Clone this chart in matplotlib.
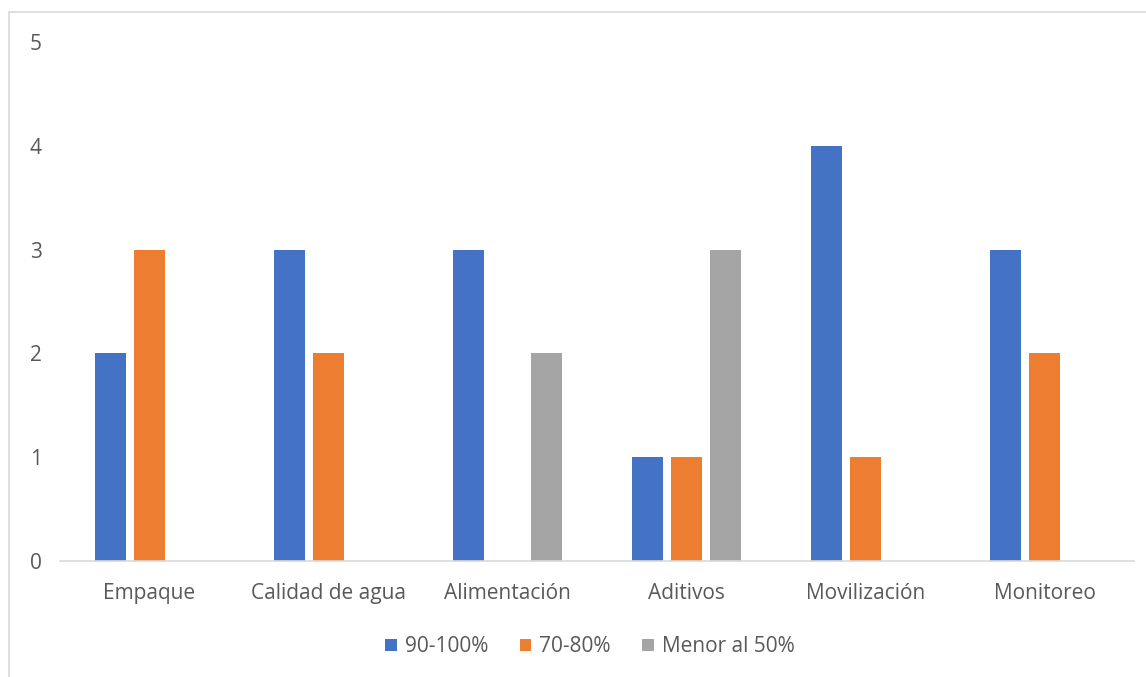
import numpy as np
import matplotlib.pyplot as plt
from matplotlib.patches import Rectangle

categorias = ["Empaque", "Calidad de agua", "Alimentación", "Aditivos", "Movilización", "Monitoreo"]
series = ["90-100%", "70-80%", "Menor al 50%"]
alto = [2, 3, 3, 1, 4, 3]
medio = [3, 2, 0, 1, 1, 2]
bajo = [0, 0, 2, 3, 0, 0]
colores = ["#4472C4", "#ED7D31", "#A5A5A5"]

plt.rcParams['font.family'] = ['Open Sans', 'DejaVu Sans']
texto = "#595959"

fig = plt.figure(figsize=(11.46, 6.77), dpi=100)
ax = fig.add_axes([60 / 1146, 1 - 561 / 677, 1074 / 1146, 519 / 677])

x = np.arange(len(categorias))
ancho = 0.173
paso = 0.218
for i, (nombre, valores) in enumerate(zip(series, [alto, medio, bajo])):
    ax.bar(x + (i - 1) * paso, valores, width=ancho, color=colores[i], label=nombre, linewidth=0)

ax.set_xlim(-0.5, len(categorias) - 0.5)
ax.set_ylim(0, 5)
ax.set_yticks(range(6))
ax.set_xticks(x)
ax.set_xticklabels(categorias)
ax.tick_params(axis='both', length=0, labelsize=15, colors=texto)
ax.tick_params(axis='y', pad=13)
ax.tick_params(axis='x', pad=16)
for lado in ['top', 'right', 'left']:
    ax.spines[lado].set_visible(False)
ax.spines['bottom'].set_color("#D9D9D9")
ax.spines['bottom'].set_linewidth(1.2)

leg = fig.legend(loc='center', bbox_to_anchor=(590 / 1146, 1 - 647 / 677), ncol=3, frameon=False,
                 fontsize=15, handlelength=0.55, handleheight=0.55, handletextpad=0.4, columnspacing=1.5)
for t in leg.get_texts():
    t.set_color(texto)

# marco del área del gráfico
fig.patches.append(Rectangle((9 / 1146, -0.05), 1.1, 1 - 12 / 677 + 0.05, transform=fig.transFigure,
                             fill=False, edgecolor="#D9D9D9", linewidth=1.2))

fig.savefig("out.png", dpi=100)
